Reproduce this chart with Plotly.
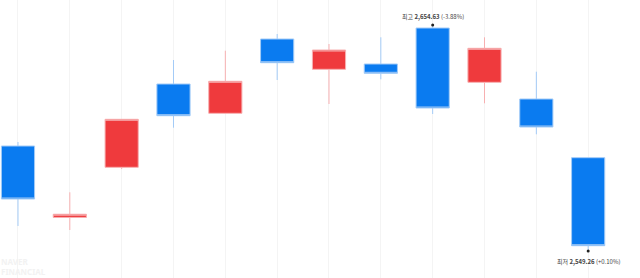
import plotly.graph_objects as go

idx = list(range(12))
opens  = [2598.21, 2564.90, 2588.28, 2627.12, 2613.46, 2648.10, 2633.98, 2636.45, 2653.23, 2627.91, 2620.13, 2592.76]
highs  = [2600.08, 2576.63, 2610.66, 2638.31, 2642.65, 2650.43, 2645.77, 2648.90, 2654.63, 2648.90, 2632.86, 2592.76]
lows   = [2560.92, 2559.05, 2587.49, 2606.75, 2613.37, 2628.99, 2617.80, 2629.31, 2613.13, 2618.12, 2603.67, 2549.26]
closes = [2573.50, 2566.40, 2610.66, 2612.34, 2628.38, 2637.05, 2642.97, 2632.11, 2615.93, 2643.77, 2607.07, 2551.73]

max_label = "최고 <b>2,654.63</b> (-3.88%)"
min_label = "최저 <b>2,549.26</b> (+0.10%)"

RED, RED_L = "#ef3a3d", "#f7b0b1"
BLUE, BLUE_L = "#0a7bf0", "#a3cbf7"

fig = go.Figure()
fig.add_trace(go.Candlestick(
    x=idx, open=opens, high=highs, low=lows, close=closes,
    increasing=dict(line=dict(color=RED_L, width=1), fillcolor=RED),
    decreasing=dict(line=dict(color=BLUE_L, width=1), fillcolor=BLUE),
    whiskerwidth=0, hoverinfo="skip", showlegend=False,
))

imax = highs.index(max(highs))
imin = lows.index(min(lows))
fig.add_trace(go.Scatter(
    x=[idx[imax], idx[imin]], y=[highs[imax], lows[imin]],
    mode="markers", marker=dict(size=3, color="#222222"),
    showlegend=False, hoverinfo="skip",
))

fig.add_annotation(x=idx[imax], y=highs[imax], text=max_label, showarrow=False,
                   yshift=9, font=dict(size=6, color="#444444", family="Noto Sans CJK KR"))
fig.add_annotation(x=idx[imin], y=lows[imin], text=min_label, showarrow=False,
                   yshift=-10, font=dict(size=6, color="#444444", family="Noto Sans CJK KR"))

fig.add_annotation(xref="paper", yref="paper", x=0.0, y=0.0, xanchor="left", yanchor="bottom",
                   text="<b>NAVER<br>FINANCIAL</b>", showarrow=False, align="left",
                   font=dict(size=8, color="#f2f2f2", family="Noto Sans"), yshift=-1, xshift=-1)

fig.update_layout(
    width=640, height=278,
    margin=dict(l=0, r=0, t=0, b=0),
    paper_bgcolor="white", plot_bgcolor="white",
    boxgap=0.36, boxgroupgap=0,
    xaxis=dict(range=[-0.347, 12.0], tickmode="linear", tick0=0, dtick=1,
               showticklabels=False, showgrid=True, gridcolor="#f4f4f4", gridwidth=1,
               zeroline=False, showline=False, rangeslider=dict(visible=False), fixedrange=True),
    yaxis=dict(range=[2536.67, 2666.29], showgrid=False, showticklabels=False,
               zeroline=False, showline=False, fixedrange=True),
)

fig.write_html("out.html")
